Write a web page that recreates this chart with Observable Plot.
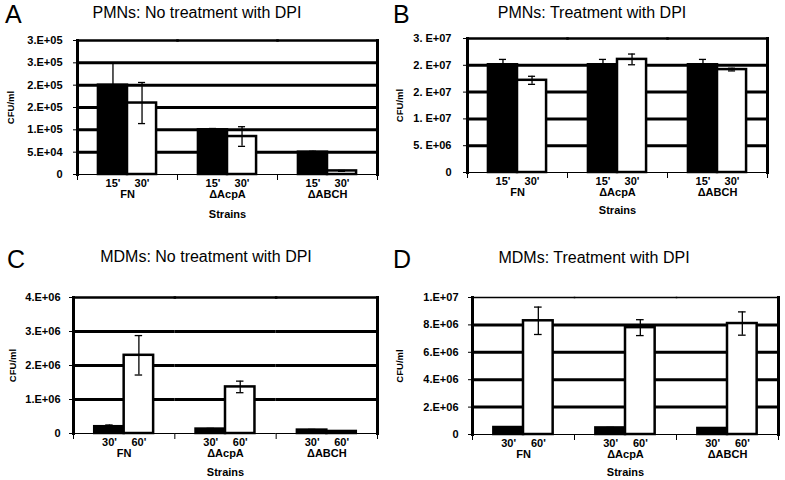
<!DOCTYPE html>
<html><head><meta charset="utf-8">
<script src="https://cdn.jsdelivr.net/npm/d3@7"></script>
<script src="https://cdn.jsdelivr.net/npm/@observablehq/plot@0.6"></script>
<style>
body{margin:0;background:#fff;font-family:"Liberation Sans",Arial,sans-serif;}
#fig{position:relative;width:785px;height:480px;overflow:hidden;background:#fff;}
.panel{position:absolute;}
.letter{position:absolute;font-size:25px;line-height:1;color:#000;}
.title{position:absolute;font-size:16px;line-height:1;white-space:nowrap;transform:translateX(-50%);color:#000;}
</style></head><body><div id="fig"></div>
<script>
// ---- data ----
const strains = ["FN", "ΔAcpA", "ΔABCH"];
const timesPMN = ["15'", "30'"];
const timesMDM = ["30'", "60'"];

// A: PMNs, no DPI
const pmnNoDpi15 = [2.0e5, 1.0e5, 0.5e5];
const pmnNoDpi15Err = [5.0e4, 3e3, 2e3];
const pmnNoDpi30 = [1.6e5, 0.85e5, 0.08e5];
const pmnNoDpi30Err = [4.6e4, 2.2e4, 1e3];
// B: PMNs, DPI
const pmnDpi15 = [2.01e7, 2.01e7, 2.01e7];
const pmnDpi15Err = [1.0e6, 1.0e6, 1.0e6];
const pmnDpi30 = [1.72e7, 2.11e7, 1.92e7];
const pmnDpi30Err = [7.5e5, 1.0e6, 2.5e5];
// C: MDMs, no DPI
const mdmNoDpi30 = [0.2e6, 0.13e6, 0.1e6];
const mdmNoDpi30Err = [0.05e6, 0.02e6, 0.02e6];
const mdmNoDpi60 = [2.3e6, 1.37e6, 0.06e6];
const mdmNoDpi60Err = [0.58e6, 0.17e6, 0.01e6];
// D: MDMs, DPI
const mdmDpi30 = [0.51e6, 0.48e6, 0.44e6];
const mdmDpi30Err = [0.05e6, 0.04e6, 0.04e6];
const mdmDpi60 = [8.3e6, 7.8e6, 8.1e6];
const mdmDpi60Err = [1.0e6, 0.58e6, 0.85e6];

// y ticks
const ticksA = [0, 5e4, 1e5, 1.5e5, 2e5, 2.5e5, 3e5];
const ticksB = [0, 5e6, 1e7, 1.5e7, 2e7, 2.5e7];
const ticksC = [0, 1e6, 2e6, 3e6, 4e6];
const ticksD = [0, 2e6, 4e6, 6e6, 8e6, 1e7];

function excelFmt(sep) {
  return d => {
    if (d === 0) return "0";
    let e = Math.floor(Math.log10(d) + 1e-9);
    let m = Math.round(d / Math.pow(10, e));
    if (m === 10) { m = 1; e++; }
    return `${m}.${sep}E+${String(e).padStart(2, "0")}`;
  };
}

function panel(cfg) {
  const rows = [];
  strains.forEach((s, i) => {
    rows.push({strain: s, time: cfg.times[0], value: cfg.early[i], err: cfg.earlyErr[i]});
    rows.push({strain: s, time: cfg.times[1], value: cfg.late[i], err: cfg.lateErr[i]});
  });
  const innerH = cfg.height - cfg.mt - cfg.mb;
  const ticks = cfg.ticks;
  const grid = ticks.slice(1, -1);
  return Plot.plot({
    width: cfg.width, height: cfg.height,
    marginLeft: cfg.ml, marginRight: cfg.mr, marginTop: cfg.mt, marginBottom: cfg.mb,
    style: {fontFamily: "'Liberation Sans', Arial, sans-serif", fontSize: "11px", fontWeight: "bold", color: "black", background: "white"},
    fx: {domain: strains, padding: 0, round: false},
    x: {domain: cfg.times, paddingInner: 0, paddingOuter: 0.72, round: false},
    y: {domain: [0, ticks[ticks.length - 1]]},
    color: {domain: cfg.times, range: ["black", "white"]},
    marks: [
      Plot.ruleY(grid, {stroke: "black", strokeWidth: 3}),
      Plot.frame({anchor: "top", stroke: "black", strokeWidth: cfg.topW}),
      Plot.frame({anchor: "left", facetAnchor: "left", stroke: "black", strokeWidth: 3}),
      Plot.frame({anchor: "right", facetAnchor: "right", stroke: "black", strokeWidth: 3}),
      Plot.frame({anchor: "left", insetTop: innerH, insetBottom: -5, stroke: "black", strokeWidth: 1}),
      Plot.frame({anchor: "right", facetAnchor: "right", insetTop: innerH, insetBottom: -5, stroke: "black", strokeWidth: 1}),
      Plot.ruleY([0], {stroke: "black", strokeWidth: 1}),
      Plot.barY(rows, {fx: "strain", x: "time", y: "value", fill: "time", stroke: "black", strokeWidth: 2.5}),
      Plot.ruleX(rows, {fx: "strain", x: "time", y1: d => d.value - d.err, y2: d => d.value + d.err, stroke: "black", strokeWidth: 1.3}),
      Plot.tickY(rows, {fx: "strain", x: "time", y: d => d.value + d.err, insetLeft: 11, insetRight: 11, stroke: "black", strokeWidth: 1.3}),
      Plot.tickY(rows, {fx: "strain", x: "time", y: d => d.value - d.err, insetLeft: 11, insetRight: 11, stroke: "black", strokeWidth: 1.3}),
      Plot.axisY({ticks, tickFormat: excelFmt(cfg.sep), tickSize: 4, tickPadding: cfg.tp, label: null}),
      Plot.axisY({ticks: [], label: "CFU/ml", labelAnchor: "center", labelOffset: cfg.labelY, labelArrow: "none", fontSize: 9.5}),
      Plot.axisX({tickSize: 0, tickPadding: 5, label: null}),
      Plot.axisFx({anchor: "bottom", tickSize: 0, tickPadding: 16, label: "Strains", labelAnchor: "center", labelOffset: cfg.labelX})
    ]
  });
}

const fig = document.getElementById("fig");
const panels = [
  {letter: "A", title: "PMNs: No treatment with DPI", left: 0, top: 0, width: 392, height: 232, ml: 77, mr: 15, mt: 40, mb: 58,
   times: timesPMN, early: pmnNoDpi15, earlyErr: pmnNoDpi15Err, late: pmnNoDpi30, lateErr: pmnNoDpi30Err, ticks: ticksA, sep: "",
   lx: 5, ly: 2, tx: 197, ty: 5, labelY: 70, labelX: 43, tp: 11, topW: 2.5},
  {letter: "B", title: "PMNs: Treatment with DPI", left: 390, top: 0, width: 395, height: 232, ml: 77, mr: 18, mt: 38, mb: 60,
   times: timesPMN, early: pmnDpi15, earlyErr: pmnDpi15Err, late: pmnDpi30, lateErr: pmnDpi30Err, ticks: ticksB, sep: " ",
   lx: 393, ly: 2, tx: 592, ty: 5, labelY: 71, labelX: 41, tp: 12, topW: 2.5},
  {letter: "C", title: "MDMs: No treatment with DPI", left: 0, top: 240, width: 392, height: 240, ml: 73, mr: 15, mt: 57, mb: 47,
   times: timesMDM, early: mdmNoDpi30, earlyErr: mdmNoDpi30Err, late: mdmNoDpi60, lateErr: mdmNoDpi60Err, ticks: ticksC, sep: "",
   lx: 7, ly: 247, tx: 206, ty: 249, labelY: 64, labelX: 42, tp: 9, topW: 2.5},
  {letter: "D", title: "MDMs: Treatment with DPI", left: 390, top: 240, width: 395, height: 240, ml: 82, mr: 7, mt: 57, mb: 46,
   times: timesMDM, early: mdmDpi30, earlyErr: mdmDpi30Err, late: mdmDpi60, lateErr: mdmDpi60Err, ticks: ticksD, sep: "",
   lx: 393, ly: 247, tx: 594, ty: 250, labelY: 76, labelX: 41, tp: 10, topW: 1.5}
];
for (const p of panels) {
  const wrap = document.createElement("div");
  wrap.className = "panel";
  wrap.style.left = p.left + "px";
  wrap.style.top = p.top + "px";
  wrap.appendChild(panel(p));
  fig.appendChild(wrap);
  const l = document.createElement("div");
  l.className = "letter"; l.textContent = p.letter;
  l.style.left = p.lx + "px"; l.style.top = p.ly + "px";
  fig.appendChild(l);
  const t = document.createElement("div");
  t.className = "title"; t.textContent = p.title;
  t.style.left = p.tx + "px"; t.style.top = p.ty + "px";
  fig.appendChild(t);
}
</script></body></html>
